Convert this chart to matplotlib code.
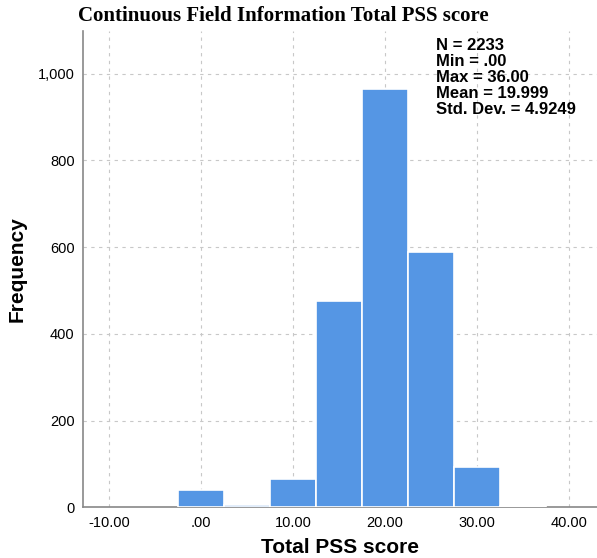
import matplotlib.pyplot as plt
from matplotlib.ticker import FuncFormatter

# histogram bins (centres) and counts
bin_centers = [0, 5, 10, 15, 20, 25, 30, 35]
counts = [39, 4, 65, 476, 965, 589, 92, 2]
bin_width = 5
x_ticks = [-10, 0, 10, 20, 30, 40]
x_labels = ["-10.00", ".00", "10.00", "20.00", "30.00", "40.00"]
y_ticks = [0, 200, 400, 600, 800, 1000]
stats = "N = 2233\nMin = .00\nMax = 36.00\nMean = 19.999\nStd. Dev. = 4.9249"

fig = plt.figure(figsize=(5.97, 5.58), dpi=100)
ax = fig.add_axes([0.139, 0.091, 0.861, 0.853])

ax.bar(bin_centers, counts, width=bin_width, color="#5596e4",
       edgecolor="white", linewidth=1.2, zorder=3)

ax.set_xlim(-12.8, 43)
ax.set_ylim(0, 1098)
ax.set_xticks(x_ticks)
ax.set_xticklabels(x_labels)
ax.set_yticks(y_ticks)
ax.yaxis.set_major_formatter(FuncFormatter(lambda v, p: f"{int(v):,}"))
ax.tick_params(labelsize=10.5, length=0, pad=6)
for lab in ax.get_xticklabels() + ax.get_yticklabels():
    lab.set_family("Liberation Sans")
ax.grid(True, linestyle=(0, (3, 4)), color="#c8c8c8", linewidth=0.8, zorder=0)
for side in ["top", "right"]:
    ax.spines[side].set_visible(False)
for side in ["left", "bottom"]:
    ax.spines[side].set_color("#888888")
    ax.spines[side].set_linewidth(1.2)

ax.set_xlabel("Total PSS score", fontsize=15, fontweight="bold",
              family="Liberation Sans", labelpad=6)
ax.set_ylabel("Frequency", fontsize=15, fontweight="bold",
              family="Liberation Sans", labelpad=8)

ax.text(0.686, 0.985, stats, transform=ax.transAxes, va="top", ha="left",
        fontsize=12, fontweight="bold", family="Liberation Sans",
        linespacing=1.08)

fig.text(0.13, 0.972, "Continuous Field Information Total PSS score",
         fontsize=15, fontweight="bold", family="Liberation Serif", va="center")

fig.savefig("out.png", dpi=100)
